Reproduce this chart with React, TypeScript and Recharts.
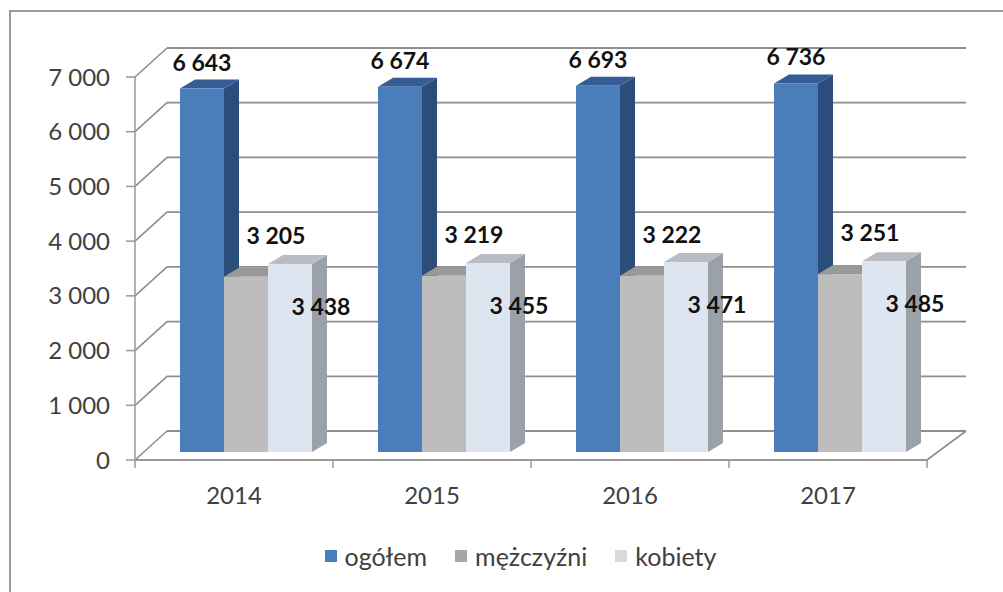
import React from "react";
import { BarChart, Bar, XAxis, YAxis, CartesianGrid, Legend, LabelList } from "recharts";

const years = ["2014", "2015", "2016", "2017"];
const ogolem = [6643, 6674, 6693, 6736];
const mezczyzni = [3205, 3219, 3222, 3251];
const kobiety = [3438, 3455, 3471, 3485];
const yTicks = [0, 1000, 2000, 3000, 4000, 5000, 6000, 7000];

const data = years.map((year, i) => ({
  year,
  ogolem: ogolem[i],
  mezczyzni: mezczyzni[i],
  kobiety: kobiety[i],
}));

const FONT = "Lato, 'Open Sans', sans-serif";
const GRID = "#8e8e8e";

// fake 3d: back wall offset, bar plane offset, bar depth
const WALL_DX = 32;
const WALL_DX_RIGHT = 39;
const WALL_DY = -29;
const BAR_SHIFT_X = 12;
const BAR_SHIFT_Y = -8;
const BAR_DX = 15;
const BAR_DY = -9;

const series = [
  { key: "ogolem", name: "ogółem", front: "#4a7ebb", side: "#2b4d7b", top: "#335d94", legend: "#4a7ebb", dx: 0, dy: -27 },
  { key: "mezczyzni", name: "mężczyźni", front: "#bdbdbd", side: "#8c8c8c", top: "#999999", legend: "#a6a6a6", dx: 30, dy: -42 },
  { key: "kobiety", name: "kobiety", front: "#dde5f0", side: "#9ba1a9", top: "#b9bdc3", legend: "#d9d9d9", dx: 31, dy: 42 },
];

const fmt = (n: number) =>
  n >= 1000 ? `${Math.floor(n / 1000)} ${String(n % 1000).padStart(3, "0")}` : String(n);

function Bar3D(props: any) {
  const { x, y, width, height, front, side, top } = props;
  if (x == null || y == null || !height) return null;
  const fx = x + BAR_SHIFT_X;
  const fy = y + BAR_SHIFT_Y;
  const r = fx + width;
  const b = fy + height;
  return (
    <g>
      <polygon points={`${r},${fy} ${r + BAR_DX},${fy + BAR_DY} ${r + BAR_DX},${b + BAR_DY} ${r},${b}`} fill={side} />
      <polygon points={`${fx},${fy} ${fx + BAR_DX},${fy + BAR_DY} ${r + BAR_DX},${fy + BAR_DY} ${r},${fy}`} fill={top} />
      <rect x={fx} y={fy} width={width} height={height} fill={front} />
    </g>
  );
}

const gridLine = (p: any) => {
  const { x1, x2, y1 } = p;
  const bottom = p.y + p.height;
  const isFloor = Math.abs(y1 - bottom) < 0.5;
  return (
    <g key={p.key}>
      <line x1={x1} y1={y1} x2={x1 + WALL_DX} y2={y1 + WALL_DY} stroke={GRID} strokeWidth={1.6} />
      <line x1={x1 + WALL_DX} y1={y1 + WALL_DY} x2={x2 + WALL_DX_RIGHT} y2={y1 + WALL_DY} stroke={GRID} strokeWidth={1.8} />
      {isFloor && <line x1={x2} y1={y1} x2={x2 + WALL_DX_RIGHT} y2={y1 + WALL_DY} stroke={GRID} strokeWidth={1.6} />}
    </g>
  );
};

const XTick = (p: any) => {
  const { x, y, payload, index, visibleTicksCount } = p;
  const half = payload.offset ?? 0;
  return (
    <g>
      <line x1={x - half} y1={y} x2={x - half} y2={y + 8} stroke="#999" strokeWidth={1.5} />
      {index === visibleTicksCount - 1 && (
        <line x1={x + half} y1={y} x2={x + half} y2={y + 8} stroke="#999" strokeWidth={1.5} />
      )}
      <text x={x} y={y + 44} textAnchor="middle" fill="#404040" fontSize={24} fontFamily={FONT}>
        {payload.value}
      </text>
    </g>
  );
};

const makeLabel = (dx: number, dy: number) => (p: any) => {
  const box = p.x != null ? p : p.viewBox;
  if (!box) return null;
  const cx = box.x + BAR_SHIFT_X + box.width / 2 + dx;
  const cy = box.y + BAR_SHIFT_Y + dy;
  return (
    <text x={cx} y={cy} textAnchor="middle" dominantBaseline="central" fill="#111" fontSize={23} fontWeight="bold" fontFamily={FONT}>
      {fmt(Number(p.value))}
    </text>
  );
};

const LegendContent = () => (
  <div style={{ display: "flex", justifyContent: "center", alignItems: "center", fontFamily: FONT, fontSize: 25, color: "#404040", lineHeight: "32px" }}>
    {series.map((s) => (
      <div key={s.key} style={{ display: "flex", alignItems: "center", margin: "0 14px" }}>
        <span style={{ width: 12, height: 12, background: s.legend, display: "inline-block", marginRight: 8 }} />
        <span>{s.name}</span>
      </div>
    ))}
  </div>
);

export default function App() {
  return (
    <div style={{ position: "fixed", left: 0, top: 0, width: 1003, height: 592, background: "#fff", overflow: "hidden" }}>
      <div style={{ position: "absolute", left: 9, top: 10, width: 1010, height: 600, border: "2px solid #999", boxSizing: "border-box" }} />
      <div style={{ position: "absolute", left: 0, top: 0 }}>
        <BarChart width={1003} height={592} data={data} margin={{ top: 77, right: 76, bottom: 72, left: 75 }} barCategoryGap={33} barGap={0}>
          <CartesianGrid horizontal={gridLine} vertical={false} />
          <XAxis dataKey="year" height={60} interval={0} tickSize={0} tickMargin={0} tickLine={false} axisLine={{ stroke: "#999", strokeWidth: 2 }} tick={<XTick />} />
          <YAxis
            width={60}
            domain={[0, 7000]}
            ticks={yTicks}
            interval={0}
            tickFormatter={fmt}
            tickSize={9}
            tickMargin={16}
            axisLine={{ stroke: "#999", strokeWidth: 1.5 }}
            tickLine={{ stroke: "#999", strokeWidth: 1.5 }}
            tick={{ fill: "#404040", fontSize: 24, fontFamily: FONT }}
          />
          <Legend verticalAlign="middle" align="center" wrapperStyle={{ top: 540, left: 38, width: 965 }} content={<LegendContent />} />
          {series.map((s) => (
            <Bar
              key={s.key}
              dataKey={s.key}
              name={s.name}
              fill={s.front}
              isAnimationActive={false}
              shape={(p: any) => <Bar3D {...p} front={s.front} side={s.side} top={s.top} />}
            >
              <LabelList dataKey={s.key} content={makeLabel(s.dx, s.dy)} />
            </Bar>
          ))}
        </BarChart>
      </div>
    </div>
  );
}
